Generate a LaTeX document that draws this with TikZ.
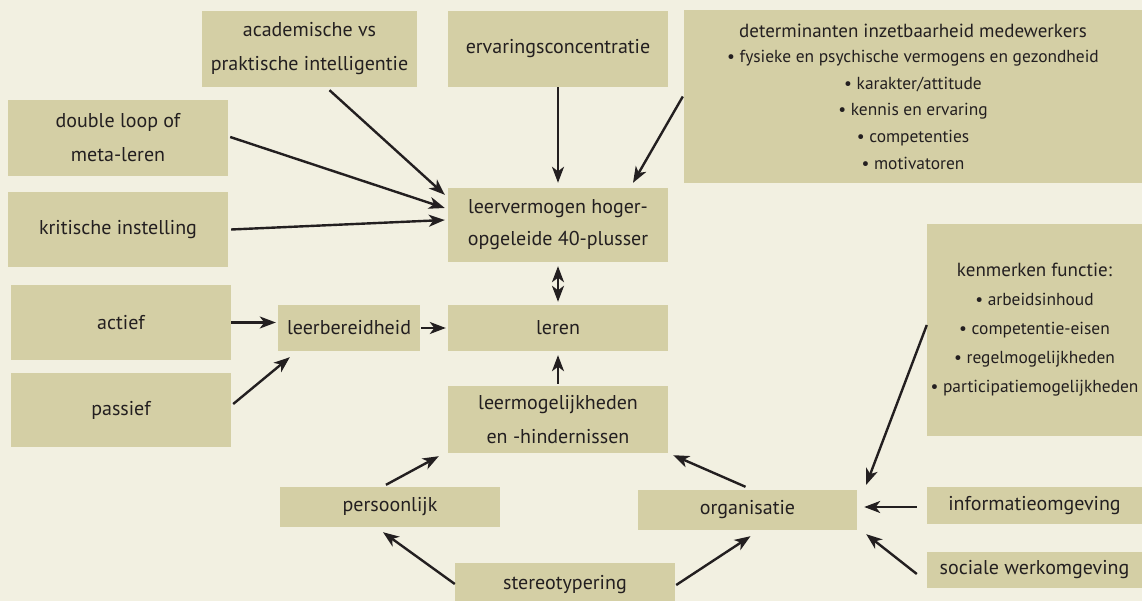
\documentclass[tikz,border=0pt]{standalone}
\usepackage{fontspec}
\setmainfont{PT Sans}
\usepackage{tikz}
\usetikzlibrary{calc,arrows.meta}

\definecolor{bgcol}{HTML}{F2F0E1}
\definecolor{boxcol}{HTML}{D4CFA5}
\definecolor{inkcol}{HTML}{231F20}

\newcommand{\itemfont}{\fontsize{17.4}{26}\selectfont}

\begin{document}
\begin{tikzpicture}[
    x=1pt, y=-1pt,
    every node/.style={font=\fontsize{20}{34}\selectfont, text=inkcol},
    block/.style={
        fill=boxcol,
        inner sep=0pt,
        align=center
    },
    arrow/.style={-{Stealth[length=16pt,width=12pt,inset=4.5pt]}, line width=2.4pt, draw=inkcol},
    twoway/.style={{Stealth[length=16pt,width=12pt,inset=4.5pt]}-{Stealth[length=16pt,width=12pt,inset=4.5pt]}, line width=2.4pt, draw=inkcol}
]

\path[use as bounding box, fill=bgcol] (0,0) rectangle (1142,601);

% top row
\node[block, minimum width=215pt, minimum height=76pt] (acad) at (309.5,49) {academische vs\\praktische intelligentie};
\node[block, minimum width=220pt, minimum height=76pt] (erv) at (558,49) {ervaringsconcentratie};
\node[block, minimum width=458pt, minimum height=173pt, font=\fontsize{19}{26.6}\selectfont] (det) at (913,96.5)
    {determinanten inzetbaarheid medewerkers\\[-1pt]
     {\itemfont • fysieke en psychische vermogens en gezondheid}\\
     {\itemfont • karakter/attitude}\\
     {\itemfont • kennis en ervaring}\\
     {\itemfont • competenties}\\
     {\itemfont • motivatoren}};

% left column
\node[block, minimum width=220pt, minimum height=76pt] (dbl) at (118,138) {double loop of\\meta-leren};
\node[block, minimum width=220pt, minimum height=75pt] (krit) at (118,229.5) {kritische instelling};
\node[block, minimum width=220pt, minimum height=75pt] (actief) at (121,322.5) {actief};
\node[block, minimum width=220pt, minimum height=74pt] (passief) at (121,410) {passief};

% centre
\node[block, minimum width=220pt, minimum height=74pt, font=\fontsize{20}{32}\selectfont] (leerverm) at (558,225) {leervermogen hoger-\\opgeleide 40-plusser};
\node[block, minimum width=220pt, minimum height=46pt] (leren) at (558,328) {leren};
\node[block, minimum width=142pt, minimum height=46pt] (leerber) at (349,328) {leerbereidheid};
\node[block, minimum width=220pt, minimum height=67pt] (leermog) at (558,419.5) {leermogelijkheden\\en -hindernissen};
\node[block, minimum width=220pt, minimum height=40pt] (pers) at (390,507) {persoonlijk};
\node[block, minimum width=219pt, minimum height=40pt] (org) at (747.5,510) {organisatie};
\node[block, minimum width=220pt, minimum height=44pt] (stereo) at (565,585) {stereotypering};

% right column
\node[block, minimum width=215pt, minimum height=212pt, font=\fontsize{19}{29}\selectfont] (kenm) at (1034.5,330)
    {kenmerken functie:\\
     {\itemfont • arbeidsinhoud}\\
     {\itemfont • competentie-eisen}\\
     {\itemfont • regelmogelijkheden}\\
     {\itemfont • participatiemogelijkheden}};
\node[block, minimum width=215pt, minimum height=37pt] (info) at (1034.5,505.5) {informatieomgeving};
\node[block, minimum width=215pt, minimum height=36pt] (soc) at (1034.5,570) {sociale werkomgeving};

% arrows into leervermogen
\draw[arrow] ($(acad.south)+(20,3)$) -- ($(leerverm.north west)+(-3,7)$);
\draw[arrow, shorten >=5pt] (erv.south) -- (leerverm.north);
\draw[arrow] ($(det.west)+(-1,0)$) -- ($(leerverm.north)+(75,-5)$);
\draw[arrow] ($(dbl.east)+(2,-1)$) -- ($(leerverm.west)+(-3,-17)$);
\draw[arrow] ($(krit.east)+(3,0)$) -- ($(leerverm.west)+(-3,-5)$);
\draw[twoway, shorten <=4pt, shorten >=3pt] (leerverm.south) -- (leren.north);

% leerbereidheid
\draw[arrow, shorten >=2pt] (actief.east) -- (actief.east -| leerber.west);
\draw[arrow] ($(passief.east)+(2,-6)$) -- ($(leerber.south west)+(12,6)$);
\draw[arrow, shorten <=1pt, shorten >=2pt] (leerber.east) -- (leerber.east -| leren.west);
\draw[arrow, shorten <=2pt, shorten >=4pt] (leermog.north) -- (leren.south);

% onder
\draw[arrow] ($(pers.north)+(-4,-2)$) -- ($(leermog.south west)+(-9,3)$);
\draw[arrow] ($(org.north)+(-2,-3)$) -- ($(leermog.south east)+(5,2)$);
\draw[arrow] ($(stereo.west)+(0,-1)$) -- ($(pers.south)+(-7,5)$);
\draw[arrow] ($(stereo.east)+(1,0)$) -- ($(org.south)+(3,6)$);

% rechts naar organisatie
\draw[arrow] ($(kenm.west)+(0,-5)$) -- ($(org.north east)+(9,-5)$);
\draw[arrow, shorten <=10pt, shorten >=7pt] ($(info.west)+(0,1.5)$) -- ($(info.west -| org.east)+(0,1.5)$);
\draw[arrow] ($(soc.west)+(-10,4)$) -- ($(org.south east)+(9,4)$);

\end{tikzpicture}
\end{document}
